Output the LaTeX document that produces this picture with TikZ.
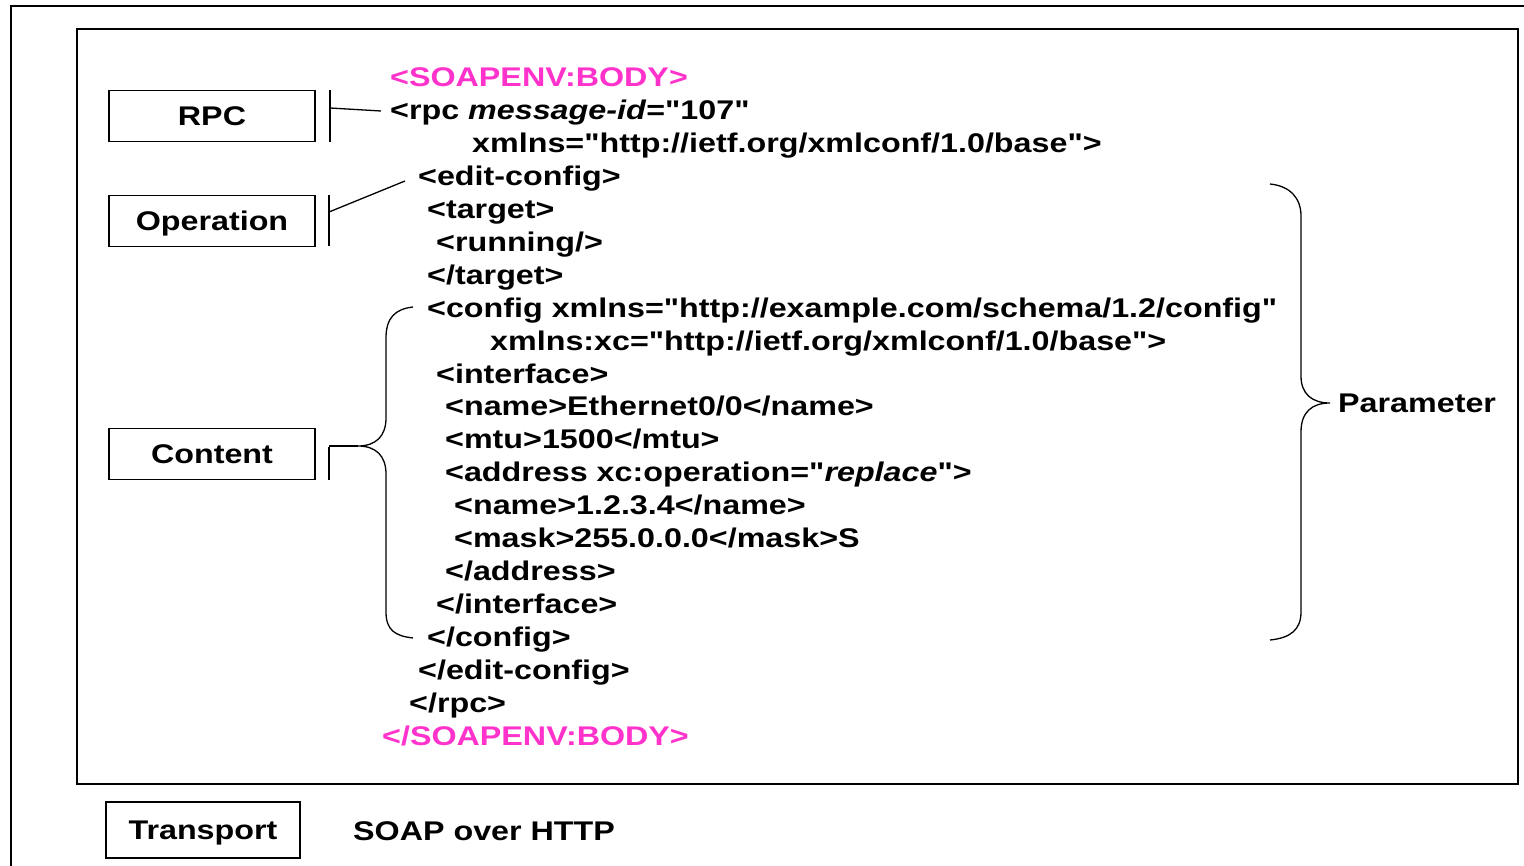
\documentclass[tikz,border=0pt]{standalone}
\usepackage{fontspec}
\setmainfont{Liberation Sans}[FakeStretch=1.195,Ligatures=TeXOff]
\definecolor{soapmag}{RGB}{255,51,204}
\newcommand\dq{\char34\relax}
\begin{document}
\begin{tikzpicture}[x=1pt,y=-1pt,
  frame/.style={draw=black,line width=1.6pt},
  labelbox/.style={draw=black,line width=1.5pt,minimum width=206pt,minimum height=51pt,inner sep=0pt,text height=19.5pt,text depth=0pt,font=\fontsize{27}{30}\selectfont\bfseries},
  xmlline/.style={anchor=base west,inner sep=0pt,font=\fontsize{27}{30}\selectfont\bfseries},
  thin/.style={draw=black,line width=1.3pt},
  mag/.style={text=soapmag}]
\useasboundingbox (0,0) rectangle (1524,866);
% outer frame (open on right and bottom)
\draw[frame] (11,866) -- (11,6) -- (1524,6);
% inner frame
\draw[frame] (77,29) rectangle (1518,784);
% label boxes
\node[labelbox] (rpc) at (212,116) {RPC};
\node[labelbox] (op) at (212,221) {Operation};
\node[labelbox] (content) at (212,454) {Content};
\node[labelbox,minimum width=194pt,minimum height=56pt] (transport) at (203,830) {Transport};
\node[xmlline] (soap) at (353,840) {SOAP over HTTP};
% xml lines
\node[xmlline,mag] (l0) at (390,87) {<SOAPENV:BODY>};
\node[xmlline] (l1) at (390,{87+32.9*1}) {<rpc \textit{message-id}=\dq107\dq};
\node[xmlline] (l2) at (472,{87+32.9*2}) {xmlns=\dq http://ietf.org/xmlconf/1.0/base\dq>};
\node[xmlline] (l3) at (418,{87+32.9*3}) {<edit-config>};
\node[xmlline] (l4) at (427,{87+32.9*4}) {<target>};
\node[xmlline] (l5) at (436,{87+32.9*5}) {<running/>};
\node[xmlline] (l6) at (427,{87+32.9*6}) {</target>};
\node[xmlline] (l7) at (427,{87+32.9*7}) {<config xmlns=\dq http://example.com/schema/1.2/config\dq};
\node[xmlline] (l8) at (490,{87+32.9*8}) {xmlns:xc=\dq http://ietf.org/xmlconf/1.0/base\dq>};
\node[xmlline] (l9) at (436,{87+32.9*9}) {<interface>};
\node[xmlline] (l10) at (445,{87+32.9*10}) {<name>Ethernet0/0</name>};
\node[xmlline] (l11) at (445,{87+32.9*11}) {<mtu>1500</mtu>};
\node[xmlline] (l12) at (445,{87+32.9*12}) {<address xc:operation=\dq\textit{replace}\dq>};
\node[xmlline] (l13) at (454,{87+32.9*13}) {<name>1.2.3.4</name>};
\node[xmlline] (l14) at (454,{87+32.9*14}) {<mask>255.0.0.0</mask>S};
\node[xmlline] (l15) at (445,{87+32.9*15}) {</address>};
\node[xmlline] (l16) at (436,{87+32.9*16}) {</interface>};
\node[xmlline] (l17) at (427,{87+32.9*17}) {</config>};
\node[xmlline] (l18) at (418,{87+32.9*18}) {</edit-config>};
\node[xmlline] (l19) at (409,{87+32.9*19}) {</rpc>};
\node[xmlline,mag] (l20) at (382,{87+32.9*20}) {</SOAPENV:BODY>};
\node[xmlline] (param) at (1338,413) {Parameter};
% RPC connector
\coordinate (rpcbarT) at (330,90);
\coordinate (rpcbarB) at (330,142);
\coordinate (rpcbarM) at (330,108);
\coordinate (rpcend) at (381,111);
\draw[thin] (rpcbarT) -- (rpcbarB);
\draw[thin] (rpcbarM) -- (rpcend);
% Operation connector
\coordinate (opbarT) at (329,195);
\coordinate (opbarB) at (329,246);
\coordinate (opbarM) at (329,212);
\coordinate (opend) at (405,181);
\draw[thin] (opbarT) -- (opbarB);
\draw[thin] (opbarM) -- (opend);
% Content connector and brace
\coordinate (cbarT) at (329,447);
\coordinate (cbarB) at (329,480);
\coordinate (cbarM) at (329,446);
\coordinate (ctip) at (358,446);
\coordinate (ctop) at (413,307);
\coordinate (cbot) at (413,638);
\draw[thin] (cbarT) -- (cbarB);
\draw[thin] (cbarM) -- (ctip);
\draw[thin] (ctop) .. controls (395,309) and (386,318) .. (386,338)
  -- (386,418) .. controls (386,436) and (376,446) .. (ctip)
  .. controls (376,446) and (386,456) .. (386,474)
  -- (386,612) .. controls (386,630) and (395,636) .. (cbot);
% Parameter brace
\coordinate (ptop) at (1270,184);
\coordinate (pbot) at (1270,640);
\coordinate (ptip) at (1330,403);
\draw[thin] (ptop) .. controls (1290,186) and (1301,198) .. (1301,216)
  -- (1301,376) .. controls (1301,394) and (1312,403) .. (ptip)
  .. controls (1312,403) and (1301,412) .. (1301,432)
  -- (1301,612) .. controls (1301,630) and (1290,638) .. (pbot);
\end{tikzpicture}
\end{document}
